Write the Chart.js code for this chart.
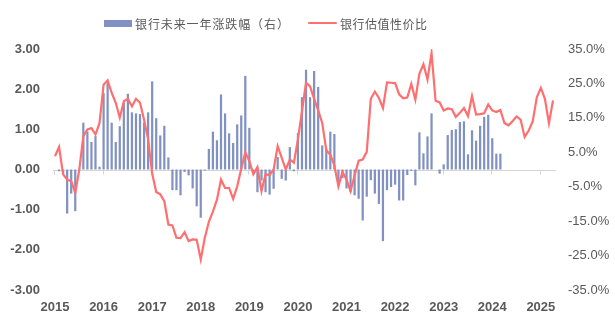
<!DOCTYPE html>
<html>
<head>
<meta charset="utf-8">
<script src="https://cdn.jsdelivr.net/npm/chart.js@4/dist/chart.umd.min.js"></script>
<style>
  html, body { margin: 0; padding: 0; background: #fff; }
  #wrap { position: relative; width: 615px; height: 324px; }
  #chart { position: absolute; left: 0; top: 0; }
  .lg { position: absolute; top: 14px; display: flex; align-items: center; height: 18px;
        font-family: "Noto Sans CJK SC", "Noto Sans", sans-serif; font-size: 12px; color: #595959;
        white-space: nowrap; }
  #lg1 { letter-spacing: 0.9px; }
  #lg2 { letter-spacing: 0.5px; }
  .sw-bar { width: 28px; height: 7px; margin-right: 3px; }
  .sw-line { width: 29px; height: 2.5px; margin-right: 3px; border-radius: 1px; }
</style>
</head>
<body>
<div id="wrap">
  <canvas id="chart" width="615" height="324"></canvas>
  <div id="lg1" class="lg" style="left:104px"><span class="sw-bar"></span><span class="tx"></span></div>
  <div id="lg2" class="lg" style="left:308px"><span class="sw-line"></span><span class="tx"></span></div>
</div>
<script>
// Month categories, 2015-01 .. 2025-04
const years = [2015, 2016, 2017, 2018, 2019, 2020, 2021, 2022, 2023, 2024, 2025];
const lastMonthOfFinalYear = 4;
const months = [];
years.forEach(y => {
  const n = y === years[years.length - 1] ? lastMonthOfFinalYear : 12;
  for (let m = 1; m <= n; m++) months.push(y + '-' + String(m).padStart(2, '0'));
});

// Bank valuation attractiveness indicator (left axis)
const valuation = [
  0.33, 0.56, -0.12, -0.25, -0.29, -0.58, 0.00, 0.83, 1.00, 1.03, 0.87, 1.16,
  2.11, 2.22, 1.91, 1.66, 1.29, 1.70, 1.76, 1.57, 1.76, 1.66, 1.24, 0.75,
  -0.10, -0.56, -0.62, -0.79, -1.37, -1.39, -1.70, -1.71, -1.56, -1.78, -1.74, -1.75,
  -2.24, -1.70, -1.30, -1.05, -0.75, -0.25, -0.46, -0.46, -0.73, -0.42, 0.02, 0.43,
  0.21, -0.12, 0.06, -0.54, -0.12, -0.14, 0.00, 0.58, 0.29, 0.00, 0.25, 0.17,
  0.75, 1.45, 2.16, 2.07, 1.76, 1.47, 1.16, 0.48, 0.37, 0.10, -0.42, -0.06,
  -0.25, -0.54, -0.15, 0.22, 0.25, 0.44, 1.76, 1.94, 1.78, 1.53, 2.17, 2.16,
  2.15, 1.87, 1.77, 1.79, 2.13, 1.74, 2.38, 2.62, 2.24, 2.90, 1.71, 1.67,
  1.47, 1.52, 1.50, 1.31, 1.41, 1.53, 1.33, 1.83, 1.37, 1.38, 1.40, 1.62,
  1.47, 1.43, 1.48, 1.16, 1.10, 1.20, 1.32, 1.24, 0.81, 0.97, 1.20, 1.80,
  2.03, 1.76, 1.15, 1.72
];

// Bank index return over the following 12 months, % (right axis)
const forwardReturn = [
  null, -0.5, -1.5, -12.8, -7.0, -12.1, 0.3, 13.6, 11.0, 8.0, 9.7, 0.8,
  22.2, 25.1, 13.6, 8.0, 12.6, 19.4, 22.0, 16.6, 16.3, 16.1, 13.6, 16.6,
  25.6, 14.9, 9.9, 12.7, 3.5, -6.0, -6.0, -7.5, -0.7, -1.7, -5.5, -10.7,
  -14.0, -0.3, 6.0, 11.0, 8.5, 21.8, 16.3, 10.5, 7.7, 13.1, 15.7, 27.2,
  12.1, -0.5, -6.6, -3.2, -6.6, -7.3, -5.6, 3.6, -2.7, -3.2, 6.5, -0.5,
  10.6, 21.0, 29.0, 21.0, 28.6, 24.0, 7.0, 6.0, 11.0, 10.3, -4.5, -2.5,
  -5.5, -6.5, -7.5, -8.5, -14.8, -7.9, -3.1, -7.0, -10.0, -20.8, -6.0, -5.1,
  -4.4, -9.0, -9.0, -1.6, -0.4, -4.6, 10.8, 4.7, 9.6, 16.3, null, -1.2,
  1.5, 10.0, 11.5, 11.7, 13.8, 14.0, 4.4, 11.4, 8.4, 12.7, 15.3, 15.9,
  9.1, 4.6, 4.6
];

const seriesNames = ['银行未来一年涨跌幅（右）', '银行估值性价比'];
const barColor = '#8191c2';
const lineColor = '#ff6f70';
const textColor = '#595959';

// Zero baseline with small yearly tick marks
const zeroAxis = {
  id: 'zeroAxis',
  beforeDatasetsDraw(chart) {
    const { ctx, chartArea: a, scales: { x, y } } = chart;
    const y0 = Math.round(y.getPixelForValue(0)) + 0.5;
    ctx.save();
    ctx.strokeStyle = '#d4d4d4';
    ctx.lineWidth = 1;
    ctx.beginPath();
    ctx.moveTo(a.left - 2, y0);
    ctx.lineTo(a.right + 3, y0);
    months.forEach((m, i) => {
      if (m.endsWith('-01')) {
        const px = Math.round(x.getPixelForValue(i)) - 0.5;
        ctx.moveTo(px, y0);
        ctx.lineTo(px, y0 + 4);
      }
    });
    ctx.stroke();
    ctx.restore();
  }
};

const chart = new Chart(document.getElementById('chart'), {
  data: {
    labels: months,
    datasets: [
      {
        type: 'bar',
        label: seriesNames[0],
        data: forwardReturn,
        yAxisID: 'y1',
        backgroundColor: barColor,
        barPercentage: 0.55,
        categoryPercentage: 1.0,
        order: 2
      },
      {
        type: 'line',
        label: seriesNames[1],
        data: valuation,
        yAxisID: 'y',
        borderColor: lineColor,
        borderWidth: 2.2,
        pointRadius: 0,
        tension: 0,
        order: 1
      }
    ]
  },
  options: {
    responsive: false,
    animation: false,
    devicePixelRatio: 1,
    layout: { padding: { top: 49, bottom: 0, left: 0, right: 0 } },
    plugins: { legend: { display: false }, tooltip: { enabled: false } },
    scales: {
      x: {
        type: 'category',
        offset: false,
        grid: { display: false, drawTicks: false },
        border: { display: false },
        ticks: {
          autoSkip: false,
          maxRotation: 0,
          minRotation: 0,
          padding: 10,
          color: textColor,
          font: { family: 'Liberation Sans', size: 13, weight: 'bold' },
          callback: (v, i) => months[i].endsWith('-01') ? months[i].slice(0, 4) : ''
        },
        afterFit: s => { s.height = 34; }
      },
      y: {
        position: 'left',
        min: -3, max: 3,
        grid: { display: false, drawTicks: false },
        border: { display: false },
        ticks: {
          stepSize: 1,
          padding: 15,
          color: textColor,
          font: { family: 'Liberation Sans', size: 13, weight: 'bold' },
          callback: v => Number(v).toFixed(2)
        },
        afterFit: s => { s.width = 55; }
      },
      y1: {
        position: 'right',
        min: -35, max: 35,
        grid: { display: false, drawTicks: false },
        border: { display: false },
        ticks: {
          stepSize: 10,
          padding: 15,
          color: textColor,
          font: { family: 'Liberation Sans', size: 13 },
          callback: v => Number(v).toFixed(1) + '%'
        },
        afterFit: s => { s.width = 62; }
      }
    }
  },
  plugins: [zeroAxis]
});

// Legend entries built from the chart's datasets
const lgBar = document.getElementById('lg1');
lgBar.querySelector('.sw-bar').style.background = chart.data.datasets[0].backgroundColor;
lgBar.querySelector('.tx').textContent = chart.data.datasets[0].label;
const lgLine = document.getElementById('lg2');
lgLine.querySelector('.sw-line').style.background = chart.data.datasets[1].borderColor;
lgLine.querySelector('.tx').textContent = chart.data.datasets[1].label;
</script>
</body>
</html>
